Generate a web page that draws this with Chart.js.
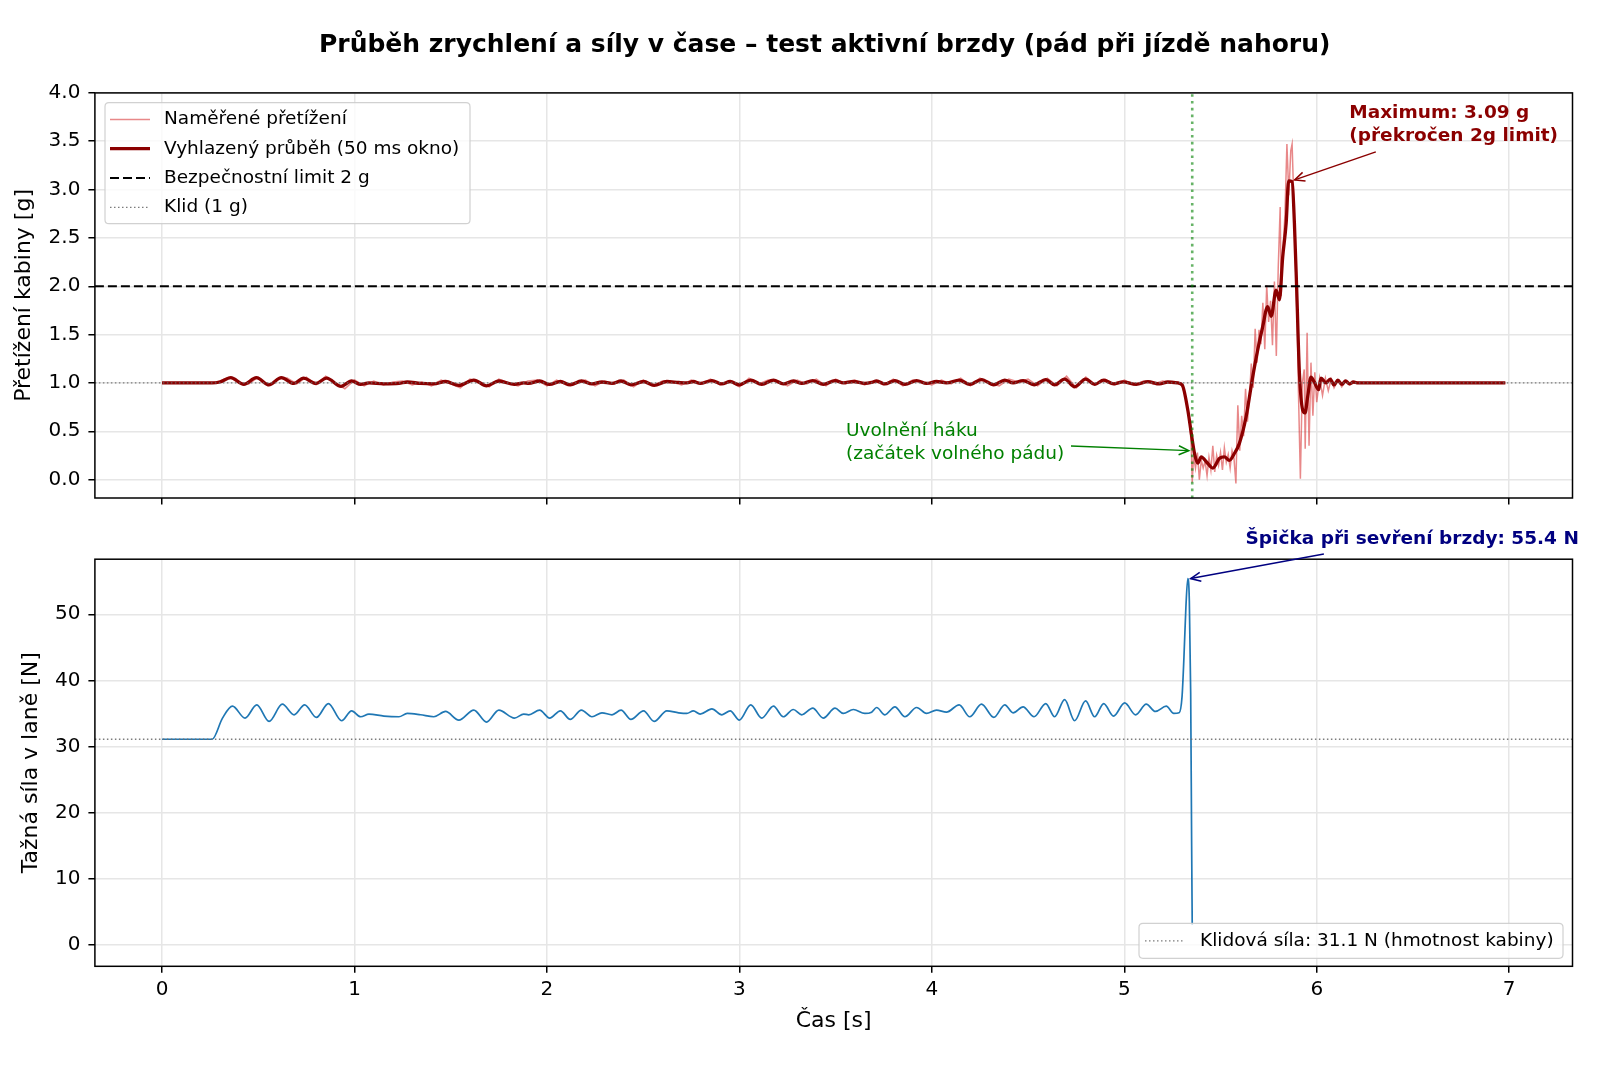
<!DOCTYPE html>
<html><head><meta charset="utf-8">
<script src="https://cdn.jsdelivr.net/npm/chart.js@4.4.1/dist/chart.umd.min.js"></script>
<style>
html,body{margin:0;padding:0;background:#fff;}
#wrap{position:relative;width:1600px;height:1067px;background:#fff;}
canvas{position:absolute;left:0;}
</style></head>
<body><div id="wrap">
<canvas id="c1" width="1600" height="520" style="top:0;width:1600px;height:520px"></canvas>
<canvas id="c2" width="1600" height="547" style="top:520px;width:1600px;height:547px"></canvas>
</div>
<script>
// ---------- texts ----------
const TITLE_TEXT = 'Průběh zrychlení a síly v čase – test aktivní brzdy (pád při jízdě nahoru)';
const Y1_TITLE = 'Přetížení kabiny [g]';
const Y2_TITLE = 'Tažná síla v laně [N]';
const X_TITLE = 'Čas [s]';
const LEGEND1_LABELS = ['Naměřené přetížení', 'Vyhlazený průběh (50 ms okno)', 'Bezpečnostní limit 2 g', 'Klid (1 g)'];
const LEGEND2_LABELS = ['Klidová síla: 31.1 N (hmotnost kabiny)'];
const NOTE_MAX = ['Maximum: 3.09 g', '(překročen 2g limit)'];
const NOTE_RELEASE = ['Uvolnění háku', '(začátek volného pádu)'];
const NOTE_PEAK = ['Špička při sevření brzdy: 55.4 N'];

// ---------- tick labels ----------
const TIME_TICKS = [0, 1, 2, 3, 4, 5, 6, 7];
const ACC_TICKS = [0, 0.5, 1, 1.5, 2, 2.5, 3, 3.5, 4];
const FORCE_TICKS = [0, 10, 20, 30, 40, 50];

// ---------- reference values ----------
const LIMIT_G = 2.0;
const REST_G = 1.0;
const REST_FORCE = 31.1;
const RELEASE_T = 5.353;
const MAX_POINT = [5.885, 3.10];
const PEAK_POINT = [5.345, 55.4];

// ---------- smoothed acceleration ----------
const accelTimes = [0, 0.26, 0.30, 0.357, 0.425, 0.49, 0.555, 0.62, 0.685, 0.735, 0.80, 0.855, 0.93, 0.985, 1.032, 1.075, 1.153, 1.231, 1.274, 1.343, 1.412, 1.473, 1.542, 1.620, 1.686, 1.750, 1.831, 1.879, 1.905, 1.962, 2.014, 2.070, 2.121, 2.179, 2.234, 2.286, 2.338, 2.385, 2.436, 2.502, 2.557, 2.623, 2.684, 2.727, 2.761, 2.796, 2.857, 2.909, 2.952, 3.000, 3.059, 3.116, 3.177, 3.228, 3.280, 3.324, 3.381, 3.436, 3.497, 3.540, 3.592, 3.652, 3.687, 3.713, 3.756, 3.808, 3.860, 3.921, 3.972, 4.024, 4.076, 4.142, 4.197, 4.258, 4.322, 4.379, 4.422, 4.474, 4.531, 4.592, 4.638, 4.690, 4.742, 4.799, 4.846, 4.893, 4.944, 4.993, 5.062, 5.123, 5.183, 5.226, 5.278, 5.301,
  5.330, 5.348, 5.365, 5.382, 5.400, 5.426, 5.460, 5.495, 5.520, 5.546, 5.572, 5.598, 5.633, 5.667, 5.693, 5.719, 5.745, 5.763, 5.789, 5.806, 5.823, 5.841, 5.854, 5.872, 5.884, 5.896, 5.910, 5.927, 5.939, 5.953, 5.970, 5.987, 6.010, 6.022, 6.048, 6.070, 6.090, 6.110, 6.130, 6.150, 6.170, 6.190, 6.215, 6.98];
const accelSmooth = [1.0, 1.0, 1.01, 1.055, 0.985, 1.055, 0.98, 1.055, 0.995, 1.05, 0.995, 1.05, 0.965, 1.02, 0.985, 1.0, 0.99, 0.995, 1.01, 0.995, 0.99, 1.015, 0.975, 1.03, 0.97, 1.02, 0.985, 1.0, 0.995, 1.02, 0.985, 1.015, 0.98, 1.02, 0.99, 1.01, 0.995, 1.02, 0.98, 1.015, 0.975, 1.015, 1.005, 1.0, 1.015, 0.995, 1.025, 0.99, 1.015, 0.98, 1.03, 0.985, 1.03, 0.99, 1.02, 0.995, 1.025, 0.985, 1.025, 1.0, 1.015, 0.995, 1.005, 1.02, 0.99, 1.025, 0.985, 1.025, 0.995, 1.015, 1.0, 1.03, 0.985, 1.035, 0.98, 1.03, 1.0, 1.025, 0.98, 1.035, 0.98, 1.04, 0.96, 1.04, 0.985, 1.03, 0.99, 1.012, 0.985, 1.013, 0.99, 1.01, 1.0, 0.98,
  0.72, 0.48, 0.27, 0.17, 0.235, 0.185, 0.12, 0.22, 0.235, 0.20, 0.27, 0.375, 0.65, 1.06, 1.34, 1.58, 1.79, 1.69, 1.96, 1.86, 2.30, 2.65, 3.09, 3.08, 2.65, 1.96, 1.10, 0.72, 0.69, 0.86, 1.06, 1.01, 0.93, 1.05, 1.0, 1.04, 0.98, 1.03, 0.985, 1.02, 0.99, 1.01, 1.0, 1.0];

// ---------- raw (measured) acceleration ----------
const rawTimes = [0, 0.26, 0.30, 0.35, 0.40, 0.45, 0.50, 0.55, 0.60, 0.65, 0.70, 0.75, 0.80, 0.85, 0.90, 0.95, 1.00, 1.05, 1.10, 1.15, 1.20, 1.25, 1.30, 1.35, 1.40, 1.45, 1.50, 1.55, 1.60, 1.65, 1.70, 1.75, 1.80, 1.85, 1.90, 1.95, 2.00, 2.05, 2.10, 2.15, 2.20, 2.25, 2.30, 2.35, 2.40, 2.45, 2.50, 2.55, 2.60, 2.65, 2.70, 2.75, 2.80, 2.85, 2.90, 2.95, 3.00, 3.05, 3.10, 3.15, 3.20, 3.25, 3.30, 3.35, 3.40, 3.45, 3.50, 3.55, 3.60, 3.65, 3.70, 3.75, 3.80, 3.85, 3.90, 3.95, 4.00, 4.05, 4.10, 4.15, 4.20, 4.25, 4.30, 4.35, 4.40, 4.45, 4.50, 4.55, 4.60, 4.65, 4.70, 4.75, 4.80, 4.85, 4.90, 4.95, 5.00, 5.05, 5.10, 5.15, 5.20, 5.25, 5.28,
  5.30, 5.315, 5.33, 5.34, 5.348, 5.353, 5.36, 5.37, 5.38, 5.39, 5.40, 5.41, 5.42, 5.43, 5.44, 5.45, 5.46, 5.47, 5.48, 5.49, 5.50, 5.51, 5.52, 5.53, 5.54, 5.55, 5.56, 5.57, 5.58, 5.585, 5.59, 5.60, 5.61, 5.62, 5.63, 5.64, 5.65, 5.66, 5.67, 5.68, 5.69, 5.70, 5.71, 5.72, 5.73, 5.74, 5.75, 5.76, 5.77, 5.78, 5.79, 5.80, 5.81, 5.815, 5.825, 5.835, 5.845, 5.855, 5.865, 5.872, 5.88, 5.89, 5.90, 5.905, 5.915, 5.925, 5.935, 5.94, 5.95, 5.96, 5.97, 5.98, 5.99, 6.00, 6.015, 6.03, 6.045, 6.06, 6.075, 6.09, 6.11, 6.13, 6.15, 6.17, 6.20, 6.25, 6.98];
const rawValues = [1.0, 1.0, 1.02, 1.06, 1.00, 0.99, 1.06, 0.97, 1.04, 1.05, 0.99, 1.06, 0.98, 1.07, 1.00, 0.94, 1.03, 0.97, 1.02, 0.98, 1.01, 1.02, 0.98, 1.01, 0.97, 1.03, 0.99, 0.95, 1.04, 1.01, 0.96, 1.04, 1.00, 0.97, 1.02, 1.03, 0.97, 1.03, 0.98, 1.01, 1.03, 0.97, 1.02, 0.99, 1.03, 0.96, 1.03, 0.97, 1.02, 1.01, 0.98, 1.03, 0.99, 1.04, 0.98, 1.02, 0.96, 1.05, 0.99, 1.03, 1.02, 0.97, 1.03, 0.99, 1.04, 0.97, 1.04, 0.99, 1.03, 0.98, 1.02, 0.98, 1.04, 0.97, 1.03, 1.01, 0.98, 1.03, 0.99, 1.05, 0.97, 1.05, 1.00, 0.97, 1.04, 1.01, 1.04, 0.97, 1.05, 0.97, 1.07, 0.95, 1.06, 0.98, 1.04, 0.98, 1.03, 0.98, 1.02, 0.99, 1.02, 1.00, 1.01,
  0.97, 0.88, 0.70, 0.60, 0.35, -0.03, 0.25, 0.12, 0.28, 0.0, 0.20, 0.12, 0.19, 0.04, 0.23, 0.10, 0.35, 0.08, 0.25, 0.15, 0.28, 0.10, 0.33, 0.18, 0.26, 0.12, 0.30, 0.22, -0.04, 0.40, 0.77, 0.30, 0.66, 0.45, 0.94, 0.60, 0.85, 1.20, 0.95, 1.56, 1.21, 1.55, 1.40, 1.83, 1.35, 2.01, 1.63, 1.85, 1.39, 2.05, 1.28, 2.20, 2.82, 1.90, 2.39, 2.75, 3.47, 2.94, 3.40, 3.47, 2.94, 2.20, 1.50, 0.90, 0.01, 1.00, 1.14, 0.32, 1.52, 0.35, 1.21, 0.66, 1.11, 0.80, 1.05, 0.87, 1.05, 0.92, 1.04, 0.95, 1.03, 0.96, 1.02, 0.98, 1.01, 1.0, 1.0];

// ---------- rope force ----------
const forceTimes = [0, 0.26, 0.314, 0.366, 0.431, 0.492, 0.556, 0.625, 0.686, 0.741, 0.802, 0.864, 0.933, 0.985, 1.032, 1.075, 1.153, 1.231, 1.274, 1.343, 1.412, 1.473, 1.542, 1.620, 1.686, 1.750, 1.831, 1.879, 1.905, 1.962, 2.014, 2.070, 2.121, 2.179, 2.234, 2.286, 2.338, 2.385, 2.436, 2.502, 2.557, 2.623, 2.684, 2.727, 2.761, 2.796, 2.857, 2.909, 2.952, 3.000, 3.059, 3.116, 3.177, 3.228, 3.280, 3.324, 3.381, 3.436, 3.497, 3.540, 3.592, 3.652, 3.687, 3.713, 3.756, 3.808, 3.860, 3.921, 3.972, 4.024, 4.076, 4.142, 4.197, 4.258, 4.322, 4.379, 4.422, 4.474, 4.531, 4.592, 4.638, 4.690, 4.742, 4.799, 4.846, 4.893, 4.944, 5.002, 5.059, 5.114, 5.162, 5.218, 5.257, 5.285, 5.300, 5.310, 5.320, 5.330, 5.338, 5.345, 5.350, 5.353];
const forceValues = [31.1, 31.1, 34.3, 36.1, 34.3, 36.3, 33.8, 36.4, 34.8, 36.3, 34.4, 36.5, 33.9, 35.4, 34.5, 34.9, 34.6, 34.5, 35.0, 34.8, 34.5, 35.3, 34.0, 35.5, 33.7, 35.5, 34.3, 34.9, 34.8, 35.5, 34.3, 35.4, 34.1, 35.5, 34.5, 35.1, 34.8, 35.5, 34.1, 35.4, 33.8, 35.4, 35.1, 35.0, 35.4, 34.9, 35.7, 34.8, 35.4, 34.0, 36.3, 34.3, 36.1, 34.5, 35.6, 34.8, 35.8, 34.3, 35.8, 35.0, 35.6, 35.0, 35.2, 35.9, 34.8, 36.0, 34.5, 35.9, 35.0, 35.5, 35.2, 36.3, 34.5, 36.4, 34.4, 36.3, 35.1, 36.0, 34.5, 36.5, 34.5, 37.1, 33.9, 36.9, 34.5, 36.5, 34.6, 36.6, 34.8, 36.4, 35.3, 36.1, 35.0, 35.1, 37.5, 43.5, 51.0, 55.4, 52.0, 38.0, 15.0, 3.0];

// ---------- axis ranges ----------
const X_MIN = -0.349, X_MAX = 7.329;
const Y1_MIN = -0.19, Y1_MAX = 4.0;
const Y2_MIN = -3.24, Y2_MAX = 58.33;

const FONT = "'DejaVu Sans', 'Liberation Sans', sans-serif";
const pts = (xs, ys) => xs.map((x, i) => ({x: x, y: ys[i]}));
const hline = (y) => [{x: X_MIN, y: y}, {x: X_MAX, y: y}];
const vline = (x, y0, y1) => [{x: x, y: y0}, {x: x, y: y1}];

const GRID = '#e6e6e6';

function xScale(showLabels, height, titleOpts) {
  return {
    type: 'linear', min: X_MIN, max: X_MAX,
    afterBuildTicks: s => { s.ticks = TIME_TICKS.map(v => ({value: v})); },
    afterFit: s => { s.height = height; },
    border: {display: false},
    grid: {color: GRID, lineWidth: 1.5, tickLength: 6.5, tickColor: '#000', tickWidth: 1.5},
    ticks: {display: showLabels, autoSkip: false, maxRotation: 0, padding: 5, color: '#000', font: {family: FONT, size: 20}},
    title: titleOpts || {display: false}
  };
}
function yScale(min, max, ticks, fmt, title, titlePad) {
  return {
    type: 'linear', min: min, max: max,
    afterBuildTicks: s => { s.ticks = ticks.map(v => ({value: v})); },
    afterFit: s => { s.width = 94.9; },
    border: {display: false},
    grid: {color: GRID, lineWidth: 1.5, tickLength: 6.5, tickColor: '#000', tickWidth: 1.5},
    ticks: {autoSkip: false, padding: 8, color: '#000', font: {family: FONT, size: 20}, callback: fmt},
    title: {display: true, text: title, color: '#000', font: {family: FONT, size: 22}, padding: {top: titlePad, bottom: 0}}
  };
}

function arrow(ctx, x0, y0, x1, y1, color) {
  ctx.save();
  ctx.strokeStyle = color; ctx.lineWidth = 1.5; ctx.setLineDash([]);
  ctx.beginPath(); ctx.moveTo(x0, y0); ctx.lineTo(x1, y1); ctx.stroke();
  const ang = Math.atan2(y1 - y0, x1 - x0), L = 10, W = 4.5;
  const bx = x1 - L * Math.cos(ang), by = y1 - L * Math.sin(ang);
  const px = -Math.sin(ang) * W, py = Math.cos(ang) * W;
  ctx.beginPath(); ctx.moveTo(bx + px, by + py); ctx.lineTo(x1, y1); ctx.lineTo(bx - px, by - py); ctx.stroke();
  ctx.restore();
}

function roundRect(ctx, x, y, w, h, r) {
  ctx.beginPath();
  ctx.moveTo(x + r, y); ctx.lineTo(x + w - r, y); ctx.quadraticCurveTo(x + w, y, x + w, y + r);
  ctx.lineTo(x + w, y + h - r); ctx.quadraticCurveTo(x + w, y + h, x + w - r, y + h);
  ctx.lineTo(x + r, y + h); ctx.quadraticCurveTo(x, y + h, x, y + h - r);
  ctx.lineTo(x, y + r); ctx.quadraticCurveTo(x, y, x + r, y); ctx.closePath();
}

function drawLegend(chart, box, labels, dsIndexes, firstRow, rowH, sampleX0, sampleX1, textX) {
  const ctx = chart.ctx;
  ctx.save();
  roundRect(ctx, box.x, box.y, box.w, box.h, 4);
  ctx.fillStyle = 'rgba(255,255,255,0.8)'; ctx.fill();
  ctx.strokeStyle = 'rgba(204,204,204,0.9)'; ctx.lineWidth = 1.2; ctx.stroke();
  labels.forEach((lab, i) => {
    const ds = chart.data.datasets[dsIndexes[i]];
    const y = box.y + firstRow + i * rowH;
    ctx.save();
    ctx.strokeStyle = ds.borderColor; ctx.lineWidth = ds.borderWidth;
    ctx.setLineDash(ds.borderDash || []);
    ctx.beginPath(); ctx.moveTo(box.x + sampleX0, y); ctx.lineTo(box.x + sampleX1, y); ctx.stroke();
    ctx.restore();
    ctx.fillStyle = '#000'; ctx.font = '18.5px ' + FONT; ctx.textBaseline = 'middle'; ctx.textAlign = 'left';
    ctx.fillText(lab, box.x + textX, y);
  });
  ctx.restore();
}

function drawNote(chart, lines, tx, ty, color, bold, from, to) {
  const ctx = chart.ctx, xs = chart.scales.x, ys = chart.scales.y;
  ctx.save();
  ctx.fillStyle = color; ctx.font = (bold ? 'bold ' : '') + '18.5px ' + FONT;
  ctx.textBaseline = 'middle'; ctx.textAlign = 'left';
  const x = xs.getPixelForValue(tx), y = ys.getPixelForValue(ty);
  lines.forEach((l, i) => ctx.fillText(l, x, y + i * 22.3));
  ctx.restore();
  arrow(ctx, xs.getPixelForValue(from[0]), ys.getPixelForValue(from[1]), xs.getPixelForValue(to[0]), ys.getPixelForValue(to[1]), color);
}

const frame = {
  id: 'frame',
  afterDatasetsDraw(chart) {
    const {ctx, chartArea: a} = chart;
    ctx.save(); ctx.strokeStyle = '#000'; ctx.lineWidth = 1.5; ctx.setLineDash([]);
    ctx.strokeRect(a.left, a.top, a.right - a.left, a.bottom - a.top);
    ctx.restore();
  }
};

const deco1 = {
  id: 'deco1',
  afterDraw(chart) {
    const ctx = chart.ctx, a = chart.chartArea;
    ctx.save();
    ctx.fillStyle = '#000'; ctx.font = 'bold 25px ' + FONT; ctx.textAlign = 'center'; ctx.textBaseline = 'middle';
    ctx.fillText(TITLE_TEXT, (a.left + a.right) / 2 - 9, 45);
    ctx.restore();
    drawNote(chart, NOTE_MAX, 6.169, 3.788, '#8B0000', true, [6.307, 3.39], MAX_POINT);
    drawNote(chart, NOTE_RELEASE, 3.554, 0.496, 'green', false, [4.723, 0.349], [5.335, 0.30]);
    drawLegend(chart, {x: a.left + 10.1, y: a.top + 9.8, w: 365, h: 121}, LEGEND1_LABELS, [0, 1, 2, 3], 16.7, 29.3, 5, 45, 59);
  }
};

const deco2 = {
  id: 'deco2',
  afterDraw(chart) {
    const a = chart.chartArea;
    drawNote(chart, NOTE_PEAK, 5.630, 61.42, '#000080', true, [6.037, 59.1], PEAK_POINT);
    drawLegend(chart, {x: a.right - 9.5 - 424, y: a.bottom - 8 - 35, w: 424, h: 35}, LEGEND2_LABELS, [1], 17.5, 0, 6, 44, 61);
  }
};

const common = {
  responsive: false, animation: false, devicePixelRatio: 1, events: [],
  plugins: {legend: {display: false}, tooltip: {enabled: false}, title: {display: false}},
  elements: {point: {radius: 0}}
};

new Chart(document.getElementById('c1'), {
  type: 'line',
  data: {datasets: [
    {label: LEGEND1_LABELS[0], data: pts(rawTimes, rawValues), borderColor: 'rgba(214,39,40,0.55)', borderWidth: 1.5, tension: 0, order: 5},
    {label: LEGEND1_LABELS[1], data: pts(accelTimes, accelSmooth), borderColor: '#8B0000', borderWidth: 3.3, cubicInterpolationMode: 'monotone', order: 4},
    {label: LEGEND1_LABELS[2], data: hline(LIMIT_G), borderColor: '#000', borderWidth: 2, borderDash: [9, 4], order: 3},
    {label: LEGEND1_LABELS[3], data: hline(REST_G), borderColor: 'rgba(110,110,110,0.9)', borderWidth: 1.3, borderDash: [1.5, 2.5], order: 2},
    {label: 'release', data: vline(RELEASE_T, Y1_MIN, Y1_MAX), borderColor: 'rgba(0,128,0,0.6)', borderWidth: 2.6, borderDash: [2.6, 4.2], order: 1}
  ]},
  options: Object.assign({}, common, {
    layout: {padding: {top: 92.9, left: 0, right: 27.5, bottom: 0}},
    scales: {
      x: xScale(false, 22),
      y: yScale(Y1_MIN, Y1_MAX, ACC_TICKS, v => v.toFixed(1), Y1_TITLE, 11.3)
    }
  }),
  plugins: [frame, deco1]
});

new Chart(document.getElementById('c2'), {
  type: 'line',
  data: {datasets: [
    {label: 'Tažná síla', data: pts(forceTimes, forceValues), borderColor: '#1f77b4', borderWidth: 1.7, cubicInterpolationMode: 'monotone', order: 2},
    {label: LEGEND2_LABELS[0], data: hline(REST_FORCE), borderColor: 'rgba(110,110,110,0.9)', borderWidth: 1.3, borderDash: [1.5, 2.5], order: 1}
  ]},
  options: Object.assign({}, common, {
    layout: {padding: {top: 39.2, left: 0, right: 27.5, bottom: 0}},
    scales: {
      x: xScale(true, 100.7, {display: true, text: X_TITLE, color: '#000', font: {family: FONT, size: 22}, padding: {top: 0, bottom: 32.8}}),
      y: yScale(Y2_MIN, Y2_MAX, FORCE_TICKS, v => String(v), Y2_TITLE, 18.4)
    }
  }),
  plugins: [frame, deco2]
});
</script>
</body></html>
